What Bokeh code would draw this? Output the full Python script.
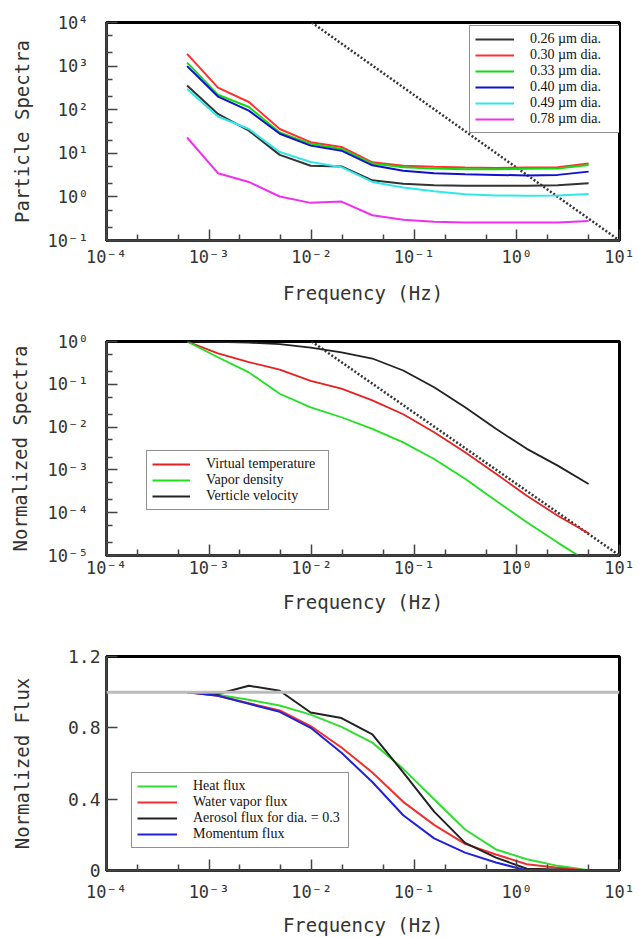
from bokeh.plotting import figure
from bokeh.layouts import column
from bokeh.models import Range1d, FixedTicker, CustomJSTickFormatter, Span
from bokeh.embed import file_html
from bokeh.resources import INLINE

# ---------------- data ----------------
freq = [0.00061, 0.00122, 0.00244, 0.00488, 0.00977, 0.0195, 0.039,
        0.078, 0.156, 0.3125, 0.625, 1.25, 2.5, 5.0]

# Panel 1: particle spectra
spec_026 = [360, 80, 33, 9.2, 5.2, 5.0, 2.4, 2.0, 1.85, 1.8, 1.8, 1.8, 1.85, 2.05]
spec_030 = [1900, 320, 150, 36, 18, 14, 6.2, 5.2, 4.9, 4.7, 4.6, 4.7, 4.8, 5.8]
spec_033 = [1200, 220, 115, 30, 16.5, 12.6, 5.8, 4.8, 4.5, 4.3, 4.3, 4.4, 4.5, 5.4]
spec_040 = [1000, 200, 95, 28, 15, 11.5, 5.3, 4.0, 3.5, 3.3, 3.2, 3.1, 3.2, 3.8]
spec_049 = [300, 70, 36, 10.7, 6.3, 4.8, 2.2, 1.65, 1.35, 1.15, 1.08, 1.06, 1.07, 1.17]
spec_078 = [23, 3.5, 2.2, 1.02, 0.73, 0.78, 0.38, 0.30, 0.27, 0.26, 0.26, 0.26, 0.26, 0.28]
spec_labels = ["0.26 µm dia.", "0.30 µm dia.", "0.33 µm dia.",
               "0.40 µm dia.", "0.49 µm dia.", "0.78 µm dia."]
ref1_f = [0.01, 10.0]
ref1_s = [1e4, 0.1]

# Panel 2: normalized spectra
ns_vt = [1.0, 0.53, 0.33, 0.22, 0.12, 0.079, 0.042, 0.020, 0.0076, 0.0026,
         8.1e-4, 2.5e-4, 8.5e-5, 3.3e-5]
ns_vd = [1.0, 0.43, 0.19, 0.06, 0.029, 0.017, 0.0091, 0.0044, 0.0018, 6.2e-4,
         1.9e-4, 6e-5, 2.0e-5, 7e-6]
ns_vv = [1.0, 0.98, 0.94, 0.87, 0.72, 0.56, 0.40, 0.21, 0.085, 0.029,
         0.0091, 0.0031, 0.00126, 4.7e-4]
ns_labels = ["Virtual temperature", "Vapor density", "Verticle velocity"]
ref2_f = [0.01, 10.0]
ref2_s = [1.0, 1e-5]

# Panel 3: normalized flux
nf_heat = [1.0, 0.985, 0.957, 0.925, 0.874, 0.805, 0.717, 0.57, 0.40, 0.23,
           0.118, 0.063, 0.026, 0.002]
nf_water = [1.0, 0.98, 0.938, 0.898, 0.81, 0.69, 0.55, 0.385, 0.256, 0.149,
            0.09, 0.035, 0.015, 0.0]
nf_aerosol = [1.0, 0.99, 1.036, 1.008, 0.886, 0.855, 0.763, 0.55, 0.33, 0.155,
              0.072, 0.01, 0.005, 0.0]
nf_momentum = [1.0, 0.98, 0.935, 0.89, 0.80, 0.66, 0.496, 0.31, 0.18, 0.10,
               0.045, 0.0, 0.0, 0.0]
nf_labels = ["Heat flux", "Water vapor flux", "Aerosol flux for dia. = 0.3",
             "Momentum flux"]
unity_level = 1.0

# ticks
x_ticks = [1e-4, 1e-3, 1e-2, 1e-1, 1.0, 10.0]
x_tick_labels = ["10⁻⁴", "10⁻³", "10⁻²", "10⁻¹", "10⁰", "10¹"]
x_minor = [2e-4, 5e-4, 2e-3, 5e-3, 2e-2, 5e-2, 0.2, 0.5, 2.0, 5.0]
y1_ticks = [0.1, 1.0, 10.0, 100.0, 1000.0, 10000.0]
y1_tick_labels = ["10⁻¹", "10⁰", "10¹", "10²", "10³", "10⁴"]
y1_minor = [0.2, 0.5, 2, 5, 20, 50, 200, 500, 2000, 5000]
y2_ticks = [1e-5, 1e-4, 1e-3, 1e-2, 1e-1, 1.0]
y2_tick_labels = ["10⁻⁵", "10⁻⁴", "10⁻³", "10⁻²", "10⁻¹", "10⁰"]
y2_minor = [2e-5, 5e-5, 2e-4, 5e-4, 2e-3, 5e-3, 2e-2, 5e-2, 0.2, 0.5]
y3_ticks = [0.0, 0.4, 0.8, 1.2]
y3_tick_labels = ["0", "0.4", "0.8", "1.2"]

AX_FONT = "DejaVu Sans Mono"
LEG_FONT = "Liberation Serif"
TXT = "#333333"
W = 639


def fmt(tvals, tlabels):
    return CustomJSTickFormatter(args=dict(tvals=tvals, tlabels=tlabels), code="""
        for (let i = 0; i < tvals.length; i++) {
            const t = tvals[i];
            if (tick == t || Math.abs(tick - t) <= 1e-9 * Math.abs(t)) return tlabels[i];
        }
        return "";
    """)


def style_axis(ax, label, ticks, minor, labels, label_size, tick_size,
               tick_standoff, label_standoff):
    ax.axis_label = label
    ax.axis_label_text_font = AX_FONT
    ax.axis_label_text_font_size = label_size
    ax.axis_label_text_font_style = "normal"
    ax.axis_label_text_color = TXT
    ax.axis_label_standoff = label_standoff
    ax.ticker = FixedTicker(ticks=ticks, minor_ticks=minor)
    ax.formatter = fmt(ticks, labels)
    ax.major_label_text_font = AX_FONT
    ax.major_label_text_font_size = tick_size
    ax.major_label_text_color = TXT
    ax.major_label_standoff = tick_standoff
    ax.major_tick_in = 11
    ax.major_tick_out = 0
    ax.minor_tick_in = 6
    ax.minor_tick_out = 0
    ax.major_tick_line_color = "#444444"
    ax.major_tick_line_width = 1.5
    ax.minor_tick_line_color = "#444444"
    ax.minor_tick_line_width = 1.5
    ax.axis_line_color = "#444444"
    ax.axis_line_width = 2.5


def base_fig(height, x_type, y_type, y_range, left, right, top, bottom):
    p = figure(width=W, height=height, x_axis_type=x_type, y_axis_type=y_type,
               x_range=Range1d(1e-4, 10), y_range=y_range,
               min_border_left=left, min_border_right=right,
               min_border_top=top, min_border_bottom=bottom,
               output_backend="svg", toolbar_location=None)
    p.xgrid.visible = False
    p.ygrid.visible = False
    p.outline_line_color = "black"
    p.outline_line_width = 3
    p.background_fill_color = "white"
    p.border_fill_color = "white"
    return p


def style_legend(p, loc, glyph_w, label_w, border_w):
    lg = p.legend[0]
    lg.location = loc
    lg.margin = 0
    lg.padding = 5
    lg.spacing = 0
    lg.label_text_font = LEG_FONT
    lg.label_text_font_size = "14px"
    lg.label_text_color = "#111111"
    lg.label_height = 12
    lg.glyph_height = 12
    lg.glyph_width = glyph_w
    lg.label_width = label_w
    lg.label_standoff = 16
    lg.border_line_color = "#222222"
    lg.border_line_width = border_w
    lg.background_fill_alpha = 1.0


# ---------------- panel 1 ----------------
p1 = base_fig(310, "log", "log", Range1d(0.1, 1e4), 103, 16, 22, 70)
style_axis(p1.xaxis[0], "Frequency (Hz)", x_ticks, x_minor, x_tick_labels,
           "19px", "17px", 6, 12)
style_axis(p1.yaxis[0], "Particle Spectra", y1_ticks, y1_minor, y1_tick_labels,
           "19px", "17px", 18, 12)
p1.line(ref1_f, ref1_s, line_color="#333333", line_width=2.5, line_dash="2 2")
spec_series = [spec_026, spec_030, spec_033, spec_040, spec_049, spec_078]
spec_colors = ["#333333", "#ff3030", "#10dd10", "#1010d0", "#30e8e8", "#f030f0"]
for vals, col, lab in zip(spec_series, spec_colors, spec_labels):
    p1.line(freq, vals, line_color=col, line_width=2, legend_label=lab)
style_legend(p1, (363, 107), 39, 86, 1.5)

# ---------------- panel 2 ----------------
p2 = base_fig(330, "log", "log", Range1d(1e-5, 1.0), 106, 20, 31, 85)
style_axis(p2.xaxis[0], "Frequency (Hz)", x_ticks, x_minor, x_tick_labels,
           "19px", "17px", 2, 10)
style_axis(p2.yaxis[0], "Normalized Spectra", y2_ticks, y2_minor, y2_tick_labels,
           "19px", "17px", 18, 14)
p2.line(ref2_f, ref2_s, line_color="#333333", line_width=2.5, line_dash="2 2")
ns_series = [ns_vt, ns_vd, ns_vv]
ns_colors = ["#e82020", "#20e020", "#222222"]
for vals, col, lab in zip(ns_series, ns_colors, ns_labels):
    p2.line(freq, vals, line_color=col, line_width=1.8, legend_label=lab)
style_legend(p2, (40, 45), 38, 117, 1.2)

# ---------------- panel 3 ----------------
p3 = base_fig(298, "log", "linear", Range1d(0.0, 1.2), 103, 16, 16, 65)
style_axis(p3.xaxis[0], "Frequency (Hz)", x_ticks, x_minor, x_tick_labels,
           "19px", "17px", 11, 9)
style_axis(p3.yaxis[0], "Normalized Flux", y3_ticks, [], y3_tick_labels,
           "19px", "18px", 6, 32)
p3.add_layout(Span(location=unity_level, dimension="width",
                   line_color="#bbbbbb", line_width=3))
nf_series = [nf_heat, nf_water, nf_aerosol, nf_momentum]
nf_colors = ["#30dd30", "#f03030", "#222222", "#2020dd"]
for vals, col, lab in zip(nf_series, nf_colors, nf_labels):
    p3.line(freq, vals, line_color=col, line_width=2, legend_label=lab)
style_legend(p3, (25, 22), 40, 150, 1.2)

layout = column(p1, p2, p3, spacing=0)
open("out.html", "w").write(file_html(layout, INLINE))
